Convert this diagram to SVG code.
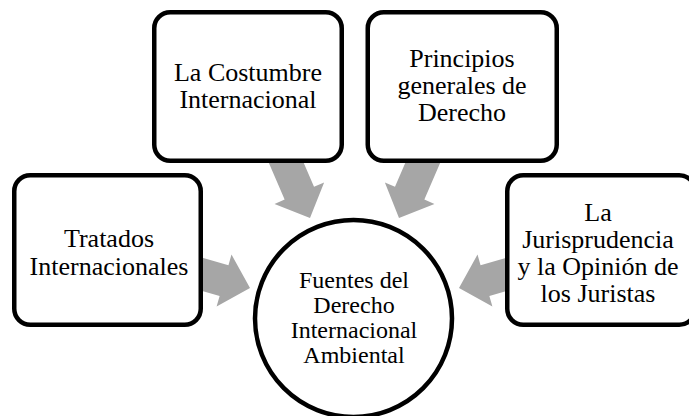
<svg xmlns="http://www.w3.org/2000/svg" width="689" height="416" viewBox="0 0 689 416">
<defs>
<style>
.box{fill:#fff;stroke:#000;stroke-width:4.5}
.arr{fill:#a6a6a6}
text{font-family:'Liberation Serif','Times New Roman',serif;fill:#000;text-anchor:middle}
</style>
<path id="arrow" d="M0,0 L-27,-27 L-27,-16 L-75,-16 L-75,16 L-27,16 L-27,27 Z"/>
</defs>
<rect width="689" height="416" fill="#fff"/>
<g id="connectors" class="arr">
<use href="#arrow" transform="translate(250,288) rotate(16)"/>
<use href="#arrow" transform="translate(310,218) rotate(66.7)"/>
<use href="#arrow" transform="translate(399,218) rotate(113.3)"/>
<use href="#arrow" transform="translate(459,288) rotate(164)"/>
</g>
<g font-size="26">
<g id="tratados">
<rect class="box" x="14.25" y="175.25" width="186.5" height="149.5" rx="16"/>
<text x="109" y="247">Tratados</text>
<text x="109" y="275">Internacionales</text>
</g>
<g id="costumbre">
<rect class="box" x="154.25" y="12.25" width="187.5" height="148.5" rx="16"/>
<text x="248" y="81">La Costumbre</text>
<text x="248" y="108">Internacional</text>
</g>
<g id="principios">
<rect class="box" x="367.75" y="12.25" width="189" height="148.5" rx="16"/>
<text x="462" y="67">Principios</text>
<text x="462" y="94">generales de</text>
<text x="462" y="121">Derecho</text>
</g>
<g id="jurisprudencia">
<rect class="box" x="507.25" y="175.25" width="188" height="149.5" rx="16"/>
<text x="598" y="221">La</text>
<text x="598" y="248">Jurisprudencia</text>
<text x="598" y="275">y la Opinión de</text>
<text x="598" y="302">los Juristas</text>
</g>
<g id="fuentes" font-size="24">
<circle class="box" cx="353.5" cy="318.5" r="98.5"/>
<text x="354" y="288">Fuentes del</text>
<text x="354" y="313">Derecho</text>
<text x="354" y="338">Internacional</text>
<text x="354" y="363">Ambiental</text>
</g>
</g>
</svg>
